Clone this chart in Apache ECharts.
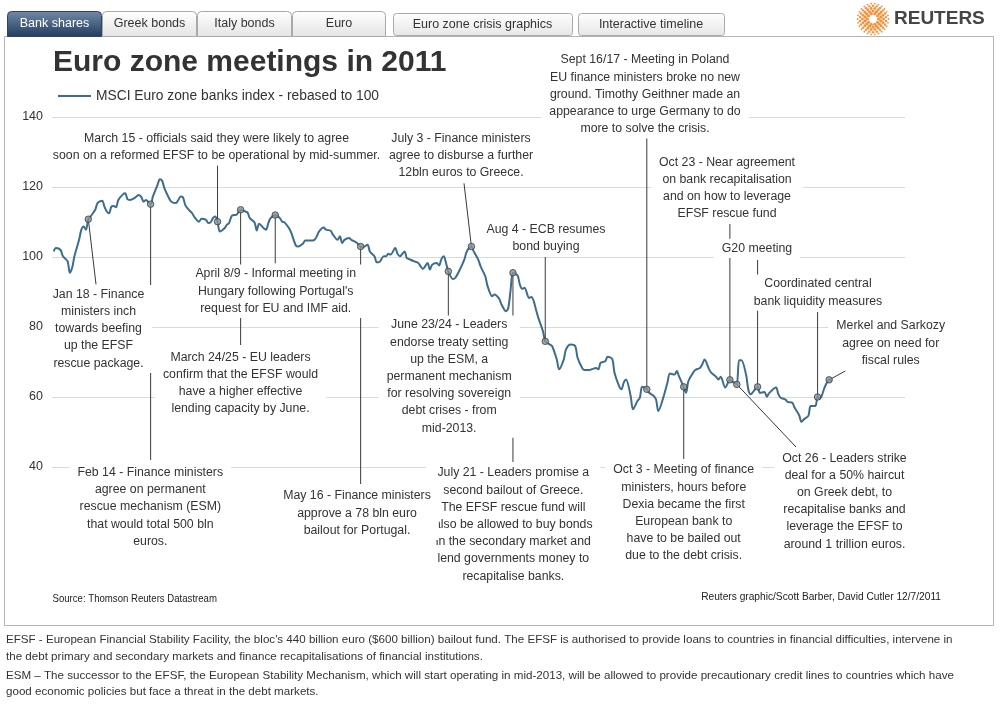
<!DOCTYPE html>
<html><head><meta charset="utf-8">
<script src="https://cdn.jsdelivr.net/npm/echarts/dist/echarts.min.js"></script>
<style>html,body{margin:0;padding:0;background:#fff}#c{width:1000px;height:714px}</style>
</head><body><div id="c"></div><script>
const FONT = '"Liberation Sans", Arial, sans-serif';
const seriesName = 'MSCI Euro zone banks index - rebased to 100';
const dates = ['2011-01-03','2011-01-04','2011-01-06','2011-01-07','2011-01-09','2011-01-10','2011-01-11','2011-01-12','2011-01-14','2011-01-15','2011-01-16','2011-01-17','2011-01-18','2011-01-19','2011-01-21','2011-01-22','2011-01-24','2011-01-25','2011-01-26','2011-01-27','2011-01-28','2011-01-29','2011-01-30','2011-01-31',
'2011-02-02','2011-02-03','2011-02-04','2011-02-05','2011-02-07','2011-02-08','2011-02-09','2011-02-10','2011-02-11','2011-02-12','2011-02-14','2011-02-15','2011-02-17','2011-02-18','2011-02-19','2011-02-20','2011-02-22','2011-02-23','2011-02-25','2011-02-26','2011-02-27','2011-02-28',
'2011-03-01','2011-03-02','2011-03-04','2011-03-05','2011-03-07','2011-03-08','2011-03-10','2011-03-11','2011-03-12','2011-03-13','2011-03-14','2011-03-15','2011-03-16','2011-03-18','2011-03-19','2011-03-20','2011-03-21','2011-03-22','2011-03-23','2011-03-25','2011-03-27','2011-03-28','2011-03-29','2011-03-31',
'2011-04-01','2011-04-02','2011-04-04','2011-04-05','2011-04-06','2011-04-07','2011-04-09','2011-04-11','2011-04-12','2011-04-13','2011-04-15','2011-04-16','2011-04-18','2011-04-19','2011-04-21','2011-04-22','2011-04-24','2011-04-26','2011-04-27','2011-04-28','2011-04-30',
'2011-05-01','2011-05-03','2011-05-04','2011-05-06','2011-05-07','2011-05-08','2011-05-09','2011-05-11','2011-05-12','2011-05-14','2011-05-16','2011-05-17','2011-05-19','2011-05-20','2011-05-22','2011-05-23','2011-05-24','2011-05-26','2011-05-27','2011-05-28','2011-05-29','2011-05-31',
'2011-06-01','2011-06-02','2011-06-04','2011-06-05','2011-06-06','2011-06-08','2011-06-10','2011-06-11','2011-06-12','2011-06-14','2011-06-15','2011-06-16','2011-06-18','2011-06-19','2011-06-20','2011-06-21','2011-06-22','2011-06-23','2011-06-25','2011-06-26','2011-06-28','2011-06-30',
'2011-07-01','2011-07-03','2011-07-04','2011-07-06','2011-07-07','2011-07-09','2011-07-10','2011-07-12','2011-07-13','2011-07-15','2011-07-16','2011-07-18','2011-07-19','2011-07-20','2011-07-21','2011-07-23','2011-07-24','2011-07-25','2011-07-26','2011-07-28','2011-07-29','2011-07-30','2011-07-31',
'2011-08-01','2011-08-03','2011-08-04','2011-08-06','2011-08-07','2011-08-09','2011-08-10','2011-08-12','2011-08-13','2011-08-15','2011-08-17','2011-08-18','2011-08-20','2011-08-21','2011-08-23','2011-08-24','2011-08-26','2011-08-27','2011-08-28','2011-08-30','2011-08-31',
'2011-09-02','2011-09-03','2011-09-05','2011-09-06','2011-09-07','2011-09-08','2011-09-10','2011-09-11','2011-09-13','2011-09-14','2011-09-15','2011-09-17','2011-09-18','2011-09-20','2011-09-21','2011-09-22','2011-09-24','2011-09-26','2011-09-27','2011-09-29','2011-09-30',
'2011-10-01','2011-10-03','2011-10-04','2011-10-05','2011-10-07','2011-10-08','2011-10-10','2011-10-11','2011-10-12','2011-10-14','2011-10-15','2011-10-17','2011-10-18','2011-10-19','2011-10-21','2011-10-23','2011-10-24','2011-10-25','2011-10-26','2011-10-27','2011-10-28','2011-10-30','2011-10-31',
'2011-11-01','2011-11-04','2011-11-05','2011-11-07','2011-11-08','2011-11-09','2011-11-12','2011-11-13','2011-11-14','2011-11-16','2011-11-17','2011-11-19','2011-11-20','2011-11-22','2011-11-23','2011-11-24','2011-11-26','2011-11-27','2011-11-29','2011-11-30',
'2011-12-01','2011-12-03','2011-12-04','2011-12-05','2011-12-06'];
const values = [101.6,102.6,102.0,100.2,98.8,95.5,96.9,100.2,104.9,107.8,108.7,107.8,110.8,111.6,113.5,115.4,116.1,114.4,113.0,112.5,114.4,114.6,114.2,116.3,
117.9,118.2,116.5,116.3,116.8,117.4,117.7,117.1,115.8,116.3,115.1,117.3,120.6,122.2,121.8,119.6,116.8,115.8,115.4,116.3,117.3,117.1,
114.9,113.9,112.5,111.4,110.1,110.9,110.6,109.7,109.9,111.1,111.6,110.1,107.3,108.2,109.2,109.7,111.6,112.0,112.0,113.5,113.0,112.7,111.1,109.9,
107.6,109.5,108.2,107.8,109.7,111.1,112.0,111.1,110.1,109.9,108.2,106.8,103.2,103.0,103.8,104.7,104.7,104.9,105.9,107.3,108.4,
107.8,107.5,106.4,104.9,105.9,104.0,104.9,105.4,104.9,104.2,103.0,102.8,103.5,101.6,100.2,98.5,98.5,100.2,100.2,100.9,100.7,102.6,
100.9,100.2,101.6,99.7,99.4,98.8,98.3,97.3,96.6,98.3,96.4,97.8,98.3,97.6,99.4,100.2,98.3,95.9,93.7,94.0,96.4,99.4,
101.6,103.0,101.6,99.2,97.3,94.5,91.7,88.8,89.3,88.1,86.5,84.5,85.5,90.7,95.5,94.7,92.1,90.9,91.2,88.3,88.6,87.4,84.9,
82.6,78.8,75.9,75.0,74.5,70.7,67.9,70.7,73.6,75.0,74.5,71.2,68.3,67.7,67.7,67.9,68.3,67.9,69.8,70.2,71.5,
70.9,66.9,63.1,62.2,64.1,65.0,60.3,56.5,58.9,59.8,62.9,62.2,61.2,60.3,59.3,56.0,59.5,64.3,66.7,66.4,67.4,
65.8,62.9,61.2,64.5,66.9,67.7,68.3,69.3,70.7,67.9,66.9,65.8,65.0,65.8,62.7,64.9,64.3,64.1,63.6,70.5,70.5,66.4,62.1,
60.8,62.9,61.2,61.4,60.1,61.1,62.7,60.8,59.8,59.3,58.6,58.4,57.0,54.8,52.9,53.6,54.6,57.4,57.4,60.0,
59.5,62.7,64.1,64.9,64.6];
const yMin = 40, yMax = 140, yStep = 20;
const eventDates = ['2011-01-18','2011-02-14','2011-03-15','2011-03-25','2011-04-09','2011-05-16','2011-06-23','2011-07-03','2011-07-21','2011-08-04','2011-09-17','2011-10-03','2011-10-23','2011-10-26','2011-11-04','2011-11-30','2011-12-05'];
const noteTexts = {
 '2011-01-18': ['Jan 18 - Finance','ministers inch','towards beefing','up the EFSF','rescue package.'],
 '2011-02-14': ['Feb 14 - Finance ministers','agree on permanent','rescue mechanism (ESM)','that would total 500 bln','euros.'],
 '2011-03-15': ['March 15 - officials said they were likely to agree','soon on a reformed EFSF to be operational by mid-summer.'],
 '2011-03-25': ['March 24/25 - EU leaders','confirm that the EFSF would','have a higher effective','lending capacity by June.'],
 '2011-04-09': ['April 8/9 - Informal meeting in','Hungary following Portugal\'s','request for EU and IMF aid.'],
 '2011-05-16': ['May 16 - Finance ministers','approve a 78 bln euro','bailout for Portugal.'],
 '2011-06-23': ['June 23/24 - Leaders','endorse treaty setting','up the ESM, a','permanent mechanism','for resolving sovereign','debt crises - from','mid-2013.'],
 '2011-07-03': ['July 3 - Finance ministers','agree to disburse a further','12bln euros to Greece.'],
 '2011-07-21': ['July 21 - Leaders promise a','second bailout of Greece.','The EFSF rescue fund will','also be allowed to buy bonds','in the secondary market and','lend governments money to','recapitalise banks.'],
 '2011-08-04': ['Aug 4 - ECB resumes','bond buying'],
 '2011-09-17': ['Sept 16/17 - Meeting in Poland','EU finance ministers broke no new','ground. Timothy Geithner made an','appearance to urge Germany to do','more to solve the crisis.'],
 '2011-10-03': ['Oct 3 - Meeting of finance','ministers, hours before','Dexia became the first','European bank to','have to be bailed out','due to the debt crisis.'],
 '2011-10-23': ['Oct 23 - Near agreement','on bank recapitalisation','and on how to leverage','EFSF rescue fund'],
 '2011-10-26': ['Oct 26 - Leaders strike','deal for a 50% haircut','on Greek debt, to','recapitalise banks and','leverage the EFSF to','around 1 trillion euros.'],
 '2011-11-04': ['G20 meeting'],
 '2011-11-30': ['Coordinated central','bank liquidity measures'],
 '2011-12-05': ['Merkel and Sarkozy','agree on need for','fiscal rules']
};
// label layout (pixels): centre x, first line centre y, leader end [x or null(=vertical), y], stacking
const noteLayout = {
 '2011-01-18': {cx:98.5, y1:294.5, end:[96,284.3]},
 '2011-02-14': {cx:150.3, y1:472.7, end:[null,460]},
 '2011-03-15': {cx:216.5, y1:138.3, end:[null,165.7]},
 '2011-03-25': {cx:240.5, y1:357.3, end:[null,345]},
 '2011-04-09': {cx:275.7, y1:274, end:[null,263.3]},
 '2011-05-16': {cx:357, y1:496, end:[null,484], top:true},
 '2011-06-23': {cx:449.2, y1:325, end:[null,318]},
 '2011-07-03': {cx:461, y1:138.3, end:[464,183.3]},
 '2011-07-21': {cx:513.3, y1:473, end:[null,462]},
 '2011-08-04': {cx:546, y1:229.3, end:[null,257]},
 '2011-09-17': {cx:645, y1:60, end:[null,138]},
 '2011-10-03': {cx:683.7, y1:470, end:[null,459]},
 '2011-10-23': {cx:727, y1:162.3, end:[null,224]},
 '2011-10-26': {cx:844.5, y1:458.3, end:[796,447]},
 '2011-11-04': {cx:757, y1:248.3, end:[null,260]},
 '2011-11-30': {cx:818, y1:284, end:[null,312]},
 '2011-12-05': {cx:890.7, y1:326, end:[845.3,371]}
};
const tabs = ['Bank shares','Greek bonds','Italy bonds','Euro'];
const buttons = ['Euro zone crisis graphics','Interactive timeline'];
const footLines = ['EFSF - European Financial Stability Facility, the bloc\'s 440 billion euro ($600 billion) bailout fund. The EFSF is authorised to provide loans to countries in financial difficulties, intervene in',
 'the debt primary and secondary markets and finance recapitalisations of financial institutions.',
 'ESM \u2013 The successor to the EFSF, the European Stability Mechanism, which will start operating in mid-2013, will be allowed to provide precautionary credit lines to countries which have',
 'good economic policies but face a threat in the debt markets.'];

function ts(s){const p=s.split('-');return new Date(+p[0],+p[1]-1,+p[2]).getTime();}
const lineData = dates.map((d,i)=>[ts(d), values[i]]);
const eventData = eventDates.map(d=>[ts(d), values[dates.indexOf(d)]]);

const chart = echarts.init(document.getElementById('c'), null, {renderer:'canvas'});
const option = {
  backgroundColor:'#fff',
  animation:false,
  title:{text:'Euro zone meetings in 2011', left:53, top:48, padding:0, textStyle:{fontFamily:FONT, fontSize:30, fontWeight:'bold', color:'#333'}},
  legend:{data:[seriesName], left:58, top:89, padding:0, icon:'rect', itemWidth:33, itemHeight:2, selectedMode:false,
    textStyle:{fontFamily:FONT, fontSize:13.8, color:'#333'}},
  grid:{left:52, right:95, top:117, bottom:247},
  xAxis:{type:'time', min:new Date(2011,0,2,6,30).getTime(), max:new Date(2012,0,6,21,0).getTime(),
    axisLine:{show:false}, axisTick:{show:false}, axisLabel:{show:false}, splitLine:{show:false}},
  yAxis:{type:'value', min:yMin, max:yMax, interval:yStep, axisLine:{show:false}, axisTick:{show:false},
    axisLabel:{margin:9, fontFamily:FONT, fontSize:12.5, color:'#333'},
    splitLine:{lineStyle:{color:'#dadada', width:1}}},
  series:[
    {name:seriesName, type:'line', data:lineData, showSymbol:false, smooth:0.3, z:3,
     lineStyle:{color:'#3c6d8e', width:2}, itemStyle:{color:'#3c6d8e'}},
    {name:'events', type:'scatter', data:eventData, symbol:'circle', symbolSize:6.5, z:20,
     itemStyle:{color:'#8796a0', borderColor:'#3a3a3a', borderWidth:1}}
  ]
};
chart.setOption(option);

const g = [];
// panel & tabs
g.push({type:'rect', z:0, shape:{x:4.5,y:36.5,width:989,height:589}, style:{fill:'none', stroke:'#b3b3b3', lineWidth:1}});
const tabX = [7,102,197,292,386];
tabs.forEach((t,i)=>{
  const sel = i===0;
  g.push({type:'rect', z:1, shape:{x:tabX[i]+0.5, y:11.5, width:tabX[i+1]-tabX[i]-1, height:25, r:[4,4,0,0]},
    style:{fill: sel ? new echarts.graphic.LinearGradient(0,0,0,1,[{offset:0,color:'#7389a6'},{offset:1,color:'#223c5e'}])
                     : new echarts.graphic.LinearGradient(0,0,0,1,[{offset:0,color:'#ffffff'},{offset:1,color:'#e4e4e4'}]),
           stroke: sel ? '#2b4566' : '#a9a9a9', lineWidth:1}});
  g.push({type:'text', z:2, style:{text:t, x:(tabX[i]+tabX[i+1])/2, y:23.5, align:'center', verticalAlign:'middle',
    font:'12.5px '+FONT, fill: sel ? '#ffffff' : '#333333'}});
});
const btnX = [[393,572],[578,724]];
buttons.forEach((t,i)=>{
  g.push({type:'rect', z:1, shape:{x:btnX[i][0]+0.5, y:13.5, width:btnX[i][1]-btnX[i][0], height:22, r:3},
    style:{fill:new echarts.graphic.LinearGradient(0,0,0,1,[{offset:0,color:'#ffffff'},{offset:1,color:'#e6e6e6'}]), stroke:'#a9a9a9', lineWidth:1}});
  g.push({type:'text', z:2, style:{text:t, x:(btnX[i][0]+btnX[i][1])/2, y:24.5, align:'center', verticalAlign:'middle',
    font:'12.5px '+FONT, fill:'#333'}});
});
// Reuters logo
const rings = [[5.5,10,1.5],[8,14,1.6],[10.6,18,1.45],[13.2,22,1.2],[15.4,26,0.9]];
rings.forEach((rg,k)=>{
  for(let j=0;j<rg[1];j++){
    const a = (j + (k%2)*0.5)/rg[1]*Math.PI*2;
    g.push({type:'circle', z:2, shape:{cx:873+rg[0]*Math.cos(a), cy:19+rg[0]*Math.sin(a), r:rg[2]}, style:{fill:'#f4913a'}});
  }
});
g.push({type:'text', z:2, style:{text:'REUTERS', x:894, y:19, verticalAlign:'middle', font:'bold 19px '+FONT, fill:'#454545'}});
// source & credit
g.push({type:'text', z:2, x:52.5, y:599, scaleX:0.915, style:{text:'Source: Thomson Reuters Datastream', x:0, y:0, verticalAlign:'middle', font:'10.5px '+FONT, fill:'#222'}});
g.push({type:'text', z:2, x:941, y:597, scaleX:0.97, style:{text:'Reuters graphic/Scott Barber, David Cutler 12/7/2011', x:0, y:0, align:'right', verticalAlign:'middle', font:'10.5px '+FONT, fill:'#222'}});
// footer
const footY = [640,656.7,675.7,691.7];
footLines.forEach((t,i)=>{
  g.push({type:'text', z:2, style:{text:t, x:6, y:footY[i], verticalAlign:'middle', font:'11.6px '+FONT, fill:'#333'}});
});
// annotations: leader lines from data points (via axis scales) + labels
const LH = 17.2;
eventDates.forEach((d,i)=>{
  const p = chart.convertToPixel({gridIndex:0}, eventData[i]);
  const L = noteLayout[d];
  const ex = L.end[0]===null ? p[0] : L.end[0];
  g.push({type:'line', z:5, shape:{x1:p[0], y1:p[1], x2:ex, y2:L.end[1]}, style:{stroke:'#3a3a3a', lineWidth:1}});
  g.push({type:'text', z:L.top ? 12 : 10, style:{text:noteTexts[d].join('\n'), x:L.cx, y:L.y1 - LH/2 - 1, align:'center', verticalAlign:'top',
    lineHeight:LH, font:'12.3px '+FONT, fill:'#333', backgroundColor:'#fff', padding:[1,8]}});
});
chart.setOption({graphic:{elements:g}});
</script></body></html>
